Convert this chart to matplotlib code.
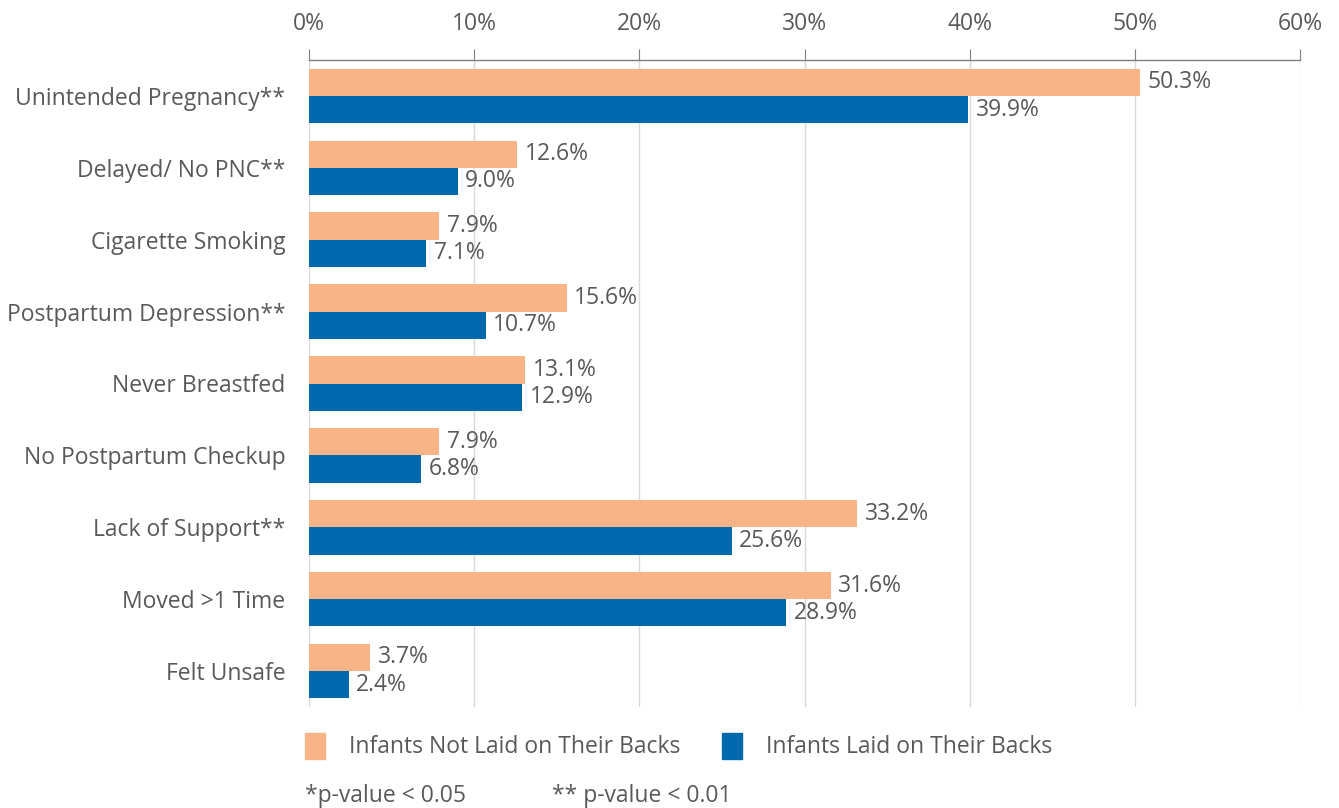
import matplotlib
matplotlib.use("Agg")
import matplotlib.pyplot as plt
from matplotlib.patches import Rectangle
import numpy as np

categories = ["Unintended Pregnancy**", "Delayed/ No PNC**", "Cigarette Smoking",
              "Postpartum Depression**", "Never Breastfed", "No Postpartum Checkup",
              "Lack of Support**", "Moved >1 Time", "Felt Unsafe"]
not_backs = [50.3, 12.6, 7.9, 15.6, 13.1, 7.9, 33.2, 31.6, 3.7]
backs = [39.9, 9.0, 7.1, 10.7, 12.9, 6.8, 25.6, 28.9, 2.4]
series_names = ["Infants Not Laid on Their Backs", "Infants Laid on Their Backs"]
xticks = [0, 10, 20, 30, 40, 50, 60]
notes = ["*p-value < 0.05", "** p-value < 0.01"]

ORANGE = "#F8B486"
BLUE = "#0068AD"
TEXT = "#595959"
GRID = "#D9D9D9"
FS = 16.5

plt.rcParams['font.family'] = ['Open Sans', 'DejaVu Sans']

fig = plt.figure(figsize=(13.39, 8.08), dpi=100)
ax = fig.add_axes([309/1339, 1-707/808, (1300-309)/1339, (707-60)/808])

y = np.arange(len(categories))
h = 0.38
ax.barh(y - h/2, not_backs, height=h, color=ORANGE, label=series_names[0], zorder=3)
ax.barh(y + h/2, backs, height=h, color=BLUE, label=series_names[1], zorder=3)

for yi, v in zip(y, not_backs):
    ax.text(v + 0.45, yi - h/2, f"{v:.1f}%", va="center", ha="left", fontsize=FS, color=TEXT)
for yi, v in zip(y, backs):
    ax.text(v + 0.45, yi + h/2, f"{v:.1f}%", va="center", ha="left", fontsize=FS, color=TEXT)

ax.set_xlim(0, 60)
ax.set_ylim(len(categories) - 0.5, -0.5)
ax.set_yticks(y)
ax.set_yticklabels(categories, fontsize=FS, color=TEXT)
ax.tick_params(axis="y", length=0, pad=17)
ax.xaxis.tick_top()
ax.set_xticks(xticks)
ax.set_xticklabels([f"{t}%" for t in xticks], fontsize=FS, color=TEXT)
ax.tick_params(axis="x", length=8, color="#7F7F7F", pad=9, direction="out")
ax.grid(axis="x", color=GRID, linewidth=1, zorder=0)
for s in ["right", "bottom", "left"]:
    ax.spines[s].set_visible(False)
ax.spines["top"].set_color("#7F7F7F")
ax.spines["top"].set_linewidth(1)

# Legend
fig.patches.append(Rectangle((305/1339, 1-759/808), 20/1339, 26/808, transform=fig.transFigure,
                             color=ORANGE, figure=fig))
fig.text(349/1339, 1-747/808, series_names[0], fontsize=FS, color=TEXT, va="center", ha="left")
fig.patches.append(Rectangle((722/1339, 1-759/808), 20/1339, 26/808, transform=fig.transFigure,
                             color=BLUE, figure=fig))
fig.text(766/1339, 1-747/808, series_names[1], fontsize=FS, color=TEXT, va="center", ha="left")

fig.text(305/1339, 1-796/808, notes[0], fontsize=FS, color=TEXT, va="center", ha="left")
fig.text(552/1339, 1-796/808, notes[1], fontsize=FS, color=TEXT, va="center", ha="left")

fig.savefig("out.png", dpi=100)
